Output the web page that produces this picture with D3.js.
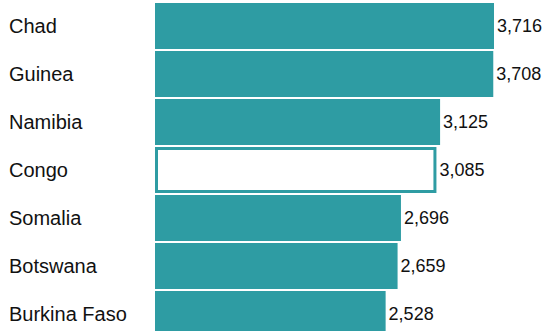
<!DOCTYPE html>
<meta charset="utf-8">
<script src="https://d3js.org/d3.v7.min.js"></script>
<style>
  body { margin: 0; background: #fff; }
</style>
<div id="my_dataviz"></div>
<script>

// data
var countries = ["Chad", "Guinea", "Namibia", "Congo", "Somalia", "Botswana", "Burkina Faso"];
var values = [3716, 3708, 3125, 3085, 2696, 2659, 2528];
var highlighted = "Congo";

var width = 545, height = 331;
var barLeft = 155;

var svg = d3.select("#my_dataviz")
  .append("svg")
    .attr("width", width)
    .attr("height", height);

var data = countries.map(function(c, i) { return {name: c, value: values[i]}; });

var x = d3.scaleLinear()
  .domain([0, 3716])
  .range([barLeft, 494]);

var y = d3.scaleBand()
  .domain(countries)
  .range([3, 3 + 48 * (countries.length - 2 / 48)])
  .paddingInner(2 / 48)
  .paddingOuter(0);

var fmt = d3.format(",");
var teal = "#2e9ca3";

// bars
svg.selectAll("rect.bar")
  .data(data)
  .enter()
  .append("rect")
    .attr("class", "bar")
    .attr("x", function(d) { return d.name === highlighted ? x(0) + 1.5 : x(0); })
    .attr("y", function(d) { return d.name === highlighted ? y(d.name) + 1.5 : y(d.name); })
    .attr("width", function(d) { return d.name === highlighted ? x(d.value) - x(0) - 3 : x(d.value) - x(0); })
    .attr("height", function(d) { return d.name === highlighted ? y.bandwidth() - 3 : y.bandwidth(); })
    .attr("fill", function(d) { return d.name === highlighted ? "#fff" : teal; })
    .attr("stroke", function(d) { return d.name === highlighted ? teal : "none"; })
    .attr("stroke-width", 3);

// country labels
svg.selectAll("text.name")
  .data(data)
  .enter()
  .append("text")
    .attr("class", "name")
    .attr("x", 9)
    .attr("y", function(d) { return y(d.name) + y.bandwidth() / 2; })
    .attr("dy", "0.35em")
    .text(function(d) { return d.name; })
    .style("font-family", "Liberation Sans, Arial, sans-serif")
    .style("font-size", "20px")
    .style("fill", "#111");

// value labels
svg.selectAll("text.val")
  .data(data)
  .enter()
  .append("text")
    .attr("class", "val")
    .attr("x", function(d) { return x(d.value) + 3; })
    .attr("y", function(d) { return y(d.name) + y.bandwidth() / 2; })
    .attr("dy", "0.35em")
    .text(function(d) { return fmt(d.value); })
    .style("font-family", "Liberation Sans, Arial, sans-serif")
    .style("font-size", "18px")
    .style("fill", "#111");

</script>
